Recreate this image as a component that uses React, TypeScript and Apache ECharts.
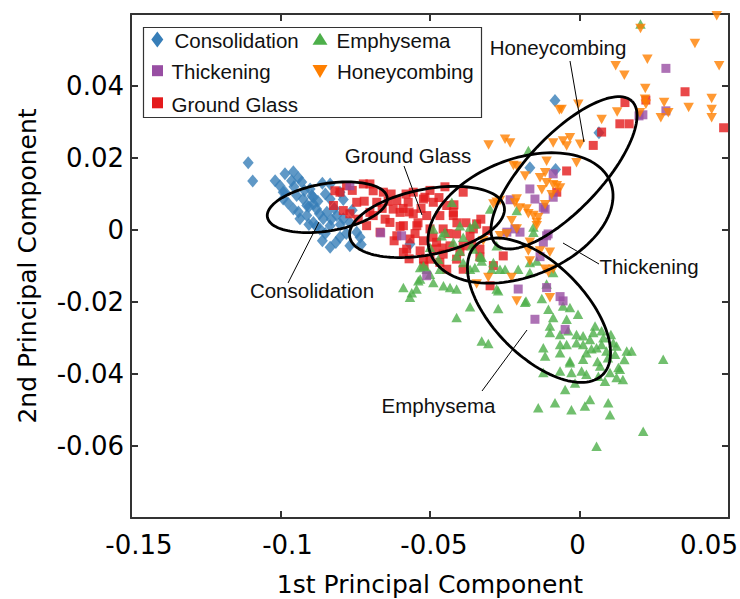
import React, { useEffect, useRef } from 'react';
import * as echarts from 'echarts';

// ---------- data (1st PC, 2nd PC) ----------
const consolidation: number[][] = [
  [-0.1108, 0.0187], [-0.1093, 0.0136], [-0.1018, 0.0137], [-0.1002, 0.0123], [-0.0985, 0.0156],
  [-0.0957, 0.0162], [-0.0963, 0.0137], [-0.0929, 0.0133], [-0.0991, 0.0105], [-0.0946, 0.0096],
  [-0.0901, 0.0114], [-0.089, 0.0091], [-0.0834, 0.0128], [-0.0801, 0.0105], [-0.0834, 0.0086],
  [-0.0912, 0.0068], [-0.0935, 0.0031], [-0.0879, 0.0058], [-0.0845, 0.0049], [-0.0812, 0.004],
  [-0.079, 0.0031], [-0.0768, 0.0021], [-0.0745, -0.0006], [-0.0834, 0.0012], [-0.0868, 0.0003],
  [-0.0801, -0.002], [-0.0834, -0.0048], [-0.0768, -0.0044], [-0.0734, -0.002], [-0.089, 0.0021],
  [-0.0912, 0.004], [-0.0857, 0.0031], [-0.0991, 0.0086], [-0.0957, 0.0058], [-0.089, 0.0072],
  [-0.0924, 0.0086], [-0.0905, 0.0065], [-0.0875, 0.008], [-0.085, 0.01], [-0.092, 0.011],
  [-0.0955, 0.012], [-0.0975, 0.0075], [-0.088, 0.001], [-0.085, -0.001], [-0.082, 0.006],
  [-0.079, 0.0085], [-0.078, -0.001], [-0.094, 0.0145], [-0.0985, 0.0105], [-0.086, 0.013],
  [-0.083, 0.003], [-0.0815, -0.0035], [-0.087, 0.0045], [-0.0895, 0.0095], [-0.076, 0.0055],
  [-0.073, -0.004], [-0.0905, 0.0015], [-0.094, 0.005], [-0.086, -0.003], [-0.08, 0.0015],
  [-0.0082, 0.036], [0.0065, 0.027], [-0.0166, 0.0173], [-0.008, 0.0168], [-0.0567, -0.0039],
];

const groundGlass: number[][] = [
  [-0.0818, 0.0109], [-0.0723, 0.0128], [-0.069, 0.0109], [-0.0656, 0.0105], [-0.0611, 0.0082],
  [-0.0573, 0.0077], [-0.0522, 0.0086], [-0.0489, 0.0077], [-0.0389, 0.0105], [-0.0444, 0.0068],
  [-0.06, 0.0049], [-0.0556, 0.0045], [-0.0511, 0.004], [-0.0467, 0.004], [-0.0422, 0.004],
  [-0.0344, 0.0017], [-0.031, -0.0002], [-0.0634, 0.0021], [-0.0589, 0.0012], [-0.0544, 0.0012],
  [-0.05, 0.0003], [-0.0456, 0.0003], [-0.0411, -0.0011], [-0.0366, -0.0016], [-0.0611, -0.0016],
  [-0.0567, -0.0025], [-0.0522, -0.003], [-0.0478, -0.0034], [-0.0433, -0.0044], [-0.0578, -0.0053],
  [-0.0533, -0.0058], [-0.0489, -0.0053], [-0.0456, -0.0067], [-0.0389, -0.0044], [-0.0712, 0.0012],
  [-0.0701, 0.0049], [-0.0745, 0.0077], [-0.0768, 0.0045], [-0.0678, 0.0077], [-0.0667, -0.0006],
  [-0.0589, -0.0062], [-0.05, -0.0081], [-0.0411, -0.0081], [-0.0444, -0.0109], [-0.0801, 0.0105],
  [-0.0823, 0.0068], [-0.079, 0.0054], [-0.0701, 0.0128], [-0.0556, 0.0105], [-0.0623, 0.0058],
  [-0.0517, 0.0091], [-0.0422, 0.0049], [-0.0355, 0.0003], [-0.0255, -0.0072], [-0.0288, -0.0099],
  [-0.0389, -0.0109], [-0.0467, -0.009], [-0.0522, -0.0081], [-0.0333, -0.0053], [-0.0299, -0.0155],
  [-0.0333, -0.0075], [-0.0779, 0.0123],
  [-0.065, 0.003], [-0.058, 0.01], [-0.053, 0.006], [-0.047, 0.009], [-0.042, 0.007],
  [-0.038, 0.002], [-0.044, -0.001], [-0.049, -0.002], [-0.055, -0.001], [-0.06, 0.001],
  [-0.062, -0.003], [-0.04, -0.006], [-0.036, -0.004], [-0.033, 0.003], [-0.052, -0.01],
  [-0.057, -0.008], [-0.045, 0.012], [-0.05, 0.011], [-0.066, 0.006], [-0.072, 0.008],
  [-0.076, 0.011], [-0.063, 0.01], [-0.059, 0.006], [-0.064, 0.008], [-0.054, 0.002],
  [-0.046, -0.005], [-0.041, 0.002], [-0.057, 0.005], [-0.069, 0.004], [-0.074, 0.003],
  [0.0046, 0.0235], [-0.0043, 0.0164], [-0.0076, 0.0105], [0.0152, 0.0354], [0.0222, 0.0361],
  [0.0135, 0.0295], [0.0166, 0.0295], [0.0074, 0.0272], [0.0353, 0.0384], [0.0482, 0.0284],
];

const thickening: number[][] = [
  [-0.0768, 0.0123], [-0.0665, -0.0008], [-0.0595, -0.0016], [-0.0511, -0.0127], [-0.0232, 0.0084],
  [-0.0166, 0.0114], [-0.0149, 0.0086], [-0.0088, 0.0091], [-0.0121, 0.0063], [-0.0243, -0.0006],
  [-0.011, -0.0016], [-0.0121, -0.0034], [-0.0205, -0.0164], [-0.0065, -0.0185], [-0.0088, 0.0156],
  [0.0212, 0.032], [0.0199, 0.0317], [0.0289, 0.0449], [0.0289, 0.0331], [-0.011, -0.016],
  [-0.0149, -0.0248], [-0.0132, -0.0074], [-0.0055, -0.0197], [-0.0048, -0.0276], [-0.0105, -0.0011],
  [-0.0115, 0.0058], [-0.0216, 0.0003], [-0.0199, -0.0006],
];

const honeycombing: number[][] = [
  [0.0459, 0.0595], [0.0386, 0.0518], [0.0227, 0.0474], [0.0121, 0.0456], [0.015, 0.043],
  [0.0467, 0.0456], [0.022, 0.0393], [0.0222, 0.0349], [0.0283, 0.0354], [0.0297, 0.0326],
  [0.0272, 0.0312], [0.0365, 0.034], [0.0442, 0.0365], [0.0442, 0.0335], [0.0442, 0.0312],
  [0.0126, 0.0328], [0.0074, 0.0307], [-0.0004, 0.0349], [-0.006, 0.0335], [-0.0032, 0.0256],
  [0.0202, 0.0326], [0.0219, 0.0363], [0.0204, 0.056],
  [-0.0304, 0.0236], [-0.0249, 0.0252], [-0.0232, 0.0242], [-0.0067, 0.0333], [-0.0088, 0.0242],
  [-0.0055, 0.0247], [0.0002, 0.0238], [-0.0043, 0.0233], [-0.011, 0.0191], [-0.001, 0.0187],
  [-0.021, 0.0177], [-0.0182, 0.015], [-0.0132, 0.0145], [-0.0115, 0.0159], [-0.011, 0.0131],
  [-0.0088, 0.0126], [-0.0065, 0.0117], [-0.0093, 0.0098], [-0.0126, 0.0112], [-0.0115, 0.007],
  [-0.0216, 0.0075], [-0.0199, 0.0061], [-0.0277, 0.0077], [-0.021, 0.0086], [-0.0177, 0.0058],
  [-0.0227, 0.0026], [-0.021, 0.0003], [-0.0154, 0.004], [-0.0143, 0.0021], [-0.0166, -0.0034],
  [-0.0132, -0.0058], [-0.0099, -0.0062], [-0.0243, -0.0011], [-0.0305, -0.0132], [-0.0227, -0.0132],
  [-0.0344, -0.015], [-0.021, -0.0197], [-0.0099, -0.0188], [-0.0115, -0.0109], [-0.0088, -0.0109],
  [-0.0166, -0.0086], [-0.0076, 0.0123], [-0.0322, -0.003], [-0.0171, -0.0058], [-0.0104, -0.0118],
  [-0.0266, 0.0082], [-0.0171, 0.0045], [-0.0138, 0.0035], [-0.0288, 0.0072], [-0.0266, -0.0016],
  [-0.0221, 0.0179], [-0.0143, 0.0012],
];

const emphysema: number[][] = [
  [-0.0411, -0.0243], [-0.0366, -0.0213], [-0.0327, -0.0308], [-0.0305, -0.0315], [-0.0272, -0.0218],
  [-0.0179, -0.0197], [-0.0126, -0.019], [-0.0104, -0.022], [-0.0088, -0.0243], [-0.0099, -0.0267],
  [-0.0099, -0.0285], [-0.0055, -0.0211], [-0.0032, -0.0215], [-0.0005, -0.0234], [-0.0043, -0.0248],
  [-0.0038, -0.028], [-0.0065, -0.029], [-0.001, -0.029], [0.0012, -0.0294], [-0.0065, -0.0318],
  [-0.0043, -0.0318], [-0.001, -0.0313], [0.0012, -0.0318], [0.0035, -0.0304], [0.0046, -0.0285],
  [0.0052, -0.0267], [0.0074, -0.028], [0.008, -0.0299], [0.0074, -0.0318], [0.0057, -0.0327],
  [0.009, -0.0336], [0.0113, -0.0313], [0.0124, -0.0322], [0.0119, -0.0345], [0.0158, -0.0336],
  [0.0023, -0.0341], [0.0012, -0.0359], [-0.0032, -0.0369], [-0.0065, -0.0392], [-0.0121, -0.0396],
  [-0.0027, -0.0396], [0.0007, -0.0392], [0.0023, -0.0401], [0.0069, -0.0378], [0.0063, -0.0406],
  [0.0102, -0.0396], [0.013, -0.0382], [0.0124, -0.041], [-0.0048, -0.0443], [-0.0115, -0.035],
  [-0.0121, -0.0327], [-0.0065, -0.0341], [-0.0032, -0.0364],
  [0.0095, -0.0355], [0.004, -0.033], [0.0105, -0.029], [0.015, -0.036], [0.0085, -0.042],
  [-0.0015, -0.0425], [0.0145, -0.0415], [0.006, -0.0365],
  [-0.0205, -0.0109], [-0.0166, -0.0118], [-0.0272, -0.0169], [-0.0249, -0.0109], [-0.0294, -0.0109],
  [-0.0327, -0.0086], [-0.0366, -0.0109], [-0.0411, -0.0164], [-0.0389, -0.009], [-0.0166, -0.009],
  [-0.0088, -0.0118], [-0.011, -0.015],
  [-0.0138, -0.0494], [-0.0082, -0.048], [-0.0027, -0.0499], [0.0018, -0.0489], [0.0035, -0.0471],
  [0.0096, -0.048], [0.0102, -0.0513], [0.0057, -0.0601], [0.0213, -0.0559], [0.028, -0.0359],
  [0.0174, -0.0336], [0.0135, -0.0387],
  [-0.0567, -0.0187], [-0.0589, -0.016], [-0.0545, -0.0164], [-0.0533, -0.0136], [-0.0433, -0.016],
  [-0.0182, -0.0201], [-0.0489, -0.0146], [-0.0467, -0.0109], [-0.035, -0.0104], [-0.0266, -0.0109],
  [-0.0299, 0.0058], [-0.021, 0.0054], [-0.0154, 0.0008], [-0.0154, -0.0006], [-0.0277, -0.0044],
  [-0.0327, -0.0076], [-0.0288, -0.009], [-0.04, -0.0058], [-0.0361, -0.0044], [-0.0422, -0.0034],
  [-0.045, -0.0006], [-0.0427, 0.0077], [-0.035, 0.0017], [-0.0522, -0.0099], [-0.0143, -0.0086],
  [-0.0366, 0.0008], [-0.0389, -0.002], [-0.0355, -0.0053], [-0.0411, -0.0072], [-0.0533, -0.0104],
  [-0.05, -0.0123], [-0.0472, -0.0081], [-0.04, 0.0012], [-0.0171, 0.0221], [-0.05, -0.0048],
  [-0.0333, -0.0072], [-0.0277, -0.0164], [0.0204, 0.0572], [-0.0561, -0.0174], [-0.0539, -0.0141],
  [-0.0511, -0.0109], [-0.0455, -0.0155], [-0.0489, 0.0003], [-0.0461, -0.0016],
];

// ellipse outlines: centre, semi-axis vector 1, semi-axis vector 2 (data units)
const ellipseNames = ['Consolidation', 'Ground Glass', 'Thickening', 'Honeycombing', 'Emphysema'];
const ellipseCenters = [[-0.08435, 0.00632], [-0.051, 0.00223], [-0.01973, 0.00334], [-0.00518, 0.01588], [-0.01355, -0.02228]];
const ellipseAxisU = [[0.02004, 0.00273], [0.02583, 0.00422], [0.0301, 0.00993], [0.0227, 0.01992], [0.02129, -0.01792]];
const ellipseAxisV = [[-0.00127, 0.00649], [-0.0021, 0.00894], [-0.0072, 0.01515], [-0.00902, 0.00713], [0.01094, 0.00901]];

const xTicks = { min: -0.15, max: 0.05, interval: 0.05 };
const yTicks = { min: -0.08, max: 0.06, interval: 0.02 };
const xTickLabels = ['-0.15', '-0.1', '-0.05', '0', '0.05'];

const C_BLUE = '#377EB8';
const C_RED = '#E41A1C';
const C_PURPLE = '#984EA3';
const C_ORANGE = '#FF7F00';
const C_GREEN = '#4DAF4A';

const fmt = (v: number) => {
  const r = Math.round(v * 1000) / 1000;
  return r === 0 ? '0' : String(r);
};

function ellipsePoints(i: number): number[][] {
  const [cx, cy] = ellipseCenters[i];
  const [ux, uy] = ellipseAxisU[i];
  const [vx, vy] = ellipseAxisV[i];
  const pts: number[][] = [];
  const n = 120;
  for (let k = 0; k <= n; k++) {
    const t = (2 * Math.PI * k) / n;
    pts.push([cx + ux * Math.cos(t) + vx * Math.sin(t), cy + uy * Math.cos(t) + vy * Math.sin(t)]);
  }
  return pts;
}

const AX_FONT = 'DejaVu Sans';
const TXT_FONT = 'Liberation Sans';
const FRAME = '#333333';

function buildOption() {
  const axisCommon = {
    type: 'value' as const,
    axisLine: { show: true, onZero: false, lineStyle: { color: FRAME, width: 2 } },
    axisTick: { show: true, inside: true, length: 7, lineStyle: { color: FRAME, width: 2 } },
    splitLine: { show: false },
  };
  const scatterBase = { type: 'scatter' as const, xAxisIndex: 0, yAxisIndex: 0, silent: true };
  const annText = (text: string, x: number, y: number, align = 'center') => ({
    type: 'text', x, y, z: 100,
    style: { text, fill: '#111', font: `20.5px "${TXT_FONT}"`, align, verticalAlign: 'middle' },
  });
  const leader = (x1: number, y1: number, x2: number, y2: number) => ({
    type: 'line', z: 100, shape: { x1, y1, x2, y2 }, style: { stroke: '#000', lineWidth: 1 },
  });
  const lblBase = { fontFamily: AX_FONT, fontSize: 26, color: '#000' };
  // small per-label nudges so the tick labels sit where the reference draws them
  const xRich = {
    l0: { ...lblBase, padding: [0, 0, 0, 16] },
    l1: { ...lblBase, padding: [0, 0, 0, 14] },
    l2: { ...lblBase, padding: [0, 0, 0, 8] },
    l3: { ...lblBase, padding: [0, 4, 0, 0] },
    l4: { ...lblBase, padding: [0, 40, 0, 0] },
  };
  return {
    animation: false,
    backgroundColor: '#fff',
    grid: { left: 131, right: 11, top: 14, bottom: 81, containLabel: false, outerBoundsMode: 'none' },
    xAxis: [
      {
        ...axisCommon, position: 'bottom', ...xTicks,
        name: '1st Principal Component', nameLocation: 'middle', nameGap: 54,
        nameTextStyle: { fontFamily: AX_FONT, fontSize: 25, color: '#000' },
        axisLabel: {
          ...lblBase, margin: 14, rich: xRich,
          formatter: (v: number) => {
            const s = fmt(v);
            const i = xTickLabels.indexOf(s);
            return i >= 0 ? `{l${i}|${s}}` : s;
          },
        },
      },
      { ...axisCommon, position: 'top', ...xTicks, axisLabel: { show: false } },
    ],
    yAxis: [
      {
        ...axisCommon, position: 'left', ...yTicks,
        name: '2nd Principal Component', nameLocation: 'middle', nameGap: 91,
        nameTextStyle: { fontFamily: AX_FONT, fontSize: 25, color: '#000' },
        axisLabel: {
          ...lblBase, margin: 7,
          formatter: (v: number) => (v < -0.07 || v > 0.05 ? '' : fmt(v)),
        },
      },
      { ...axisCommon, position: 'right', ...yTicks, axisLabel: { show: false } },
    ],
    series: [
      { ...scatterBase, name: 'Consolidation', data: consolidation, symbol: 'diamond', symbolSize: [11, 13], itemStyle: { color: C_BLUE } },
      { ...scatterBase, name: 'Ground Glass', data: groundGlass, symbol: 'rect', symbolSize: 9, itemStyle: { color: C_RED } },
      { ...scatterBase, name: 'Emphysema', data: emphysema, symbol: 'triangle', symbolSize: [10.5, 9.5], itemStyle: { color: C_GREEN } },
      { ...scatterBase, name: 'Thickening', data: thickening, symbol: 'rect', symbolSize: 9, itemStyle: { color: C_PURPLE } },
      { ...scatterBase, name: 'Honeycombing', data: honeycombing, symbol: 'path://M0,0L10,0L5,9Z', symbolSize: [10.5, 9.5], itemStyle: { color: C_ORANGE } },
      ...ellipseNames.map((nm, i) => ({
        type: 'line', name: nm + ' ellipse', data: ellipsePoints(i), showSymbol: false, symbol: 'none',
        silent: true, z: 5, lineStyle: { color: '#000', width: 2.8 },
      })),
    ],
    graphic: [
      // legend box
      { type: 'rect', z: 90, shape: { x: 143.5, y: 27.5, width: 338, height: 90 }, style: { fill: '#fff', stroke: FRAME, lineWidth: 1.2 } },
      { type: 'polygon', z: 95, shape: { points: [[157.3, 31.5], [163.3, 39.5], [157.3, 47.5], [151.3, 39.5]] }, style: { fill: C_BLUE } },
      annText('Consolidation', 174.5, 40, 'left'),
      { type: 'polygon', z: 95, shape: { points: [[320, 32.8], [327.5, 44.8], [312.5, 44.8]] }, style: { fill: C_GREEN } },
      annText('Emphysema', 336.5, 40, 'left'),
      { type: 'rect', z: 95, shape: { x: 152, y: 65.2, width: 11, height: 11 }, style: { fill: C_PURPLE } },
      annText('Thickening', 171.5, 71, 'left'),
      { type: 'polygon', z: 95, shape: { points: [[312.5, 65], [327.5, 65], [320, 78]] }, style: { fill: C_ORANGE } },
      annText('Honeycombing', 337, 71, 'left'),
      { type: 'rect', z: 95, shape: { x: 152, y: 97.3, width: 11, height: 11 }, style: { fill: C_RED } },
      annText('Ground Glass', 171.5, 104, 'left'),
      // annotations
      annText('Honeycombing', 558, 47),
      leader(570, 61, 584, 142),
      annText('Ground Glass', 408, 155),
      leader(404, 166, 422, 215),
      annText('Consolidation', 312, 290),
      leader(319, 222, 288, 283),
      annText('Thickening', 649, 266),
      leader(563, 243, 599, 264),
      annText('Emphysema', 438.5, 405),
      leader(527, 330, 482, 391),
    ],
  };
}

export default function App() {
  const ref = useRef<HTMLDivElement>(null);
  useEffect(() => {
    if (!ref.current) return;
    const chart = echarts.init(ref.current, null, { renderer: 'svg' });
    chart.setOption(buildOption() as any);
    return () => chart.dispose();
  }, []);
  return (
    <div
      ref={ref}
      style={{ position: 'fixed', left: 0, top: 0, width: 740, height: 599, background: '#fff' }}
    />
  );
}
